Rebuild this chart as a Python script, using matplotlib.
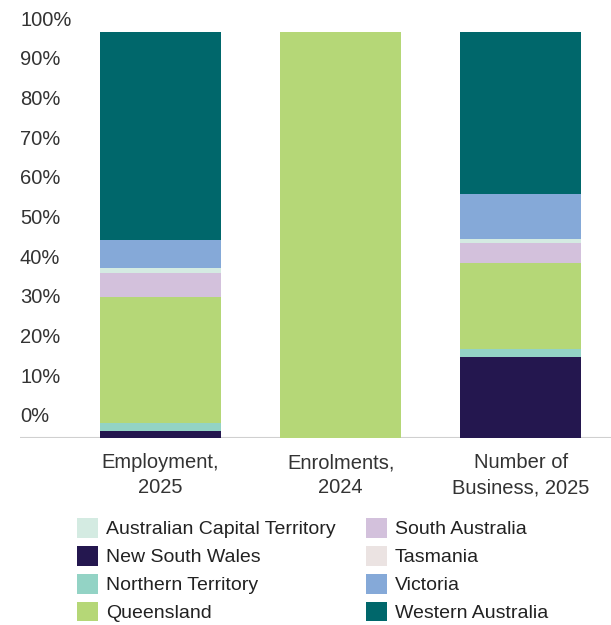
import matplotlib
matplotlib.use("Agg")
import matplotlib.pyplot as plt
import matplotlib.transforms as mtransforms
from matplotlib.patches import Patch

plt.rcParams['font.family'] = ['Liberation Sans', 'DejaVu Sans']

# data (share of national total, %)
categories = ["Employment,\n2025", "Enrolments,\n2024", "Number of\nBusiness, 2025"]

# stacking order, bottom to top
states = ["New South Wales", "Northern Territory", "Queensland", "South Australia",
          "Tasmania", "Australian Capital Territory", "Victoria", "Western Australia"]
nsw = [1.8, 0.0, 20.0]
nt = [2.0, 0.0, 2.0]
qld = [31.0, 100.0, 21.1]
sa = [5.8, 0.0, 4.9]
tas = [0.0, 0.0, 0.0]
act = [1.2, 0.0, 1.0]
vic = [7.0, 0.0, 11.1]
wa = [51.2, 0.0, 39.9]
values = [nsw, nt, qld, sa, tas, act, vic, wa]

colors = {
    "Australian Capital Territory": "#d4ebe2",
    "New South Wales": "#24174f",
    "Northern Territory": "#93d3c5",
    "Queensland": "#b5d777",
    "South Australia": "#d3c1dc",
    "Tasmania": "#ebe3e2",
    "Victoria": "#85a9d8",
    "Western Australia": "#00676b",
}
legend_order = ["Australian Capital Territory", "New South Wales", "Northern Territory",
                "Queensland", "South Australia", "Tasmania", "Victoria", "Western Australia"]

yticks = [0, 10, 20, 30, 40, 50, 60, 70, 80, 90, 100]

W, H = 611, 625
fig = plt.figure(figsize=(W / 100, H / 100), dpi=100)
ax = fig.add_axes([20 / W, 1 - 438 / H, 591 / W, (438 - 32) / H])

x = list(range(len(categories)))
bottom = [0.0] * len(categories)
for name, vals in zip(states, values):
    ax.bar(x, vals, width=0.671, bottom=bottom, color=colors[name], linewidth=0)
    bottom = [b + v for b, v in zip(bottom, vals)]

ax.set_xlim(-0.779, 2.5)
ax.set_ylim(0, 100)
ax.axhline(0, color="#d0d0d0", linewidth=1.5, zorder=0)

for s in ax.spines.values():
    s.set_visible(False)
ax.set_yticks([])
ax.set_xticks(x)
ax.set_xticklabels(categories, fontsize=14.5, color="#333333", linespacing=1.4)
ax.tick_params(axis="x", length=0, pad=11)

# y labels sit a little above their values, as in the original
base = mtransforms.blended_transform_factory(ax.transAxes, ax.transData)
for t in yticks:
    dy = 21 - 9 * t / 100
    tr = mtransforms.offset_copy(base, fig=fig, x=0, y=dy, units="dots")
    ax.text(0, t, f"{t}%", transform=tr, ha="left", va="center",
            fontsize=14.5, color="#333333", clip_on=False)

handles = [Patch(facecolor=colors[n], edgecolor="none", label=n) for n in legend_order]
fig.legend(handles=handles, ncol=2, loc="upper left",
           bbox_to_anchor=(77 / W, 1 - 518 / H), frameon=False, fontsize=14,
           handlelength=1.08, handleheight=1.19, handletextpad=0.41,
           labelspacing=0.38, columnspacing=1.55, borderpad=0, borderaxespad=0,
           labelcolor="#222222")

fig.savefig("out.png", dpi=100)
